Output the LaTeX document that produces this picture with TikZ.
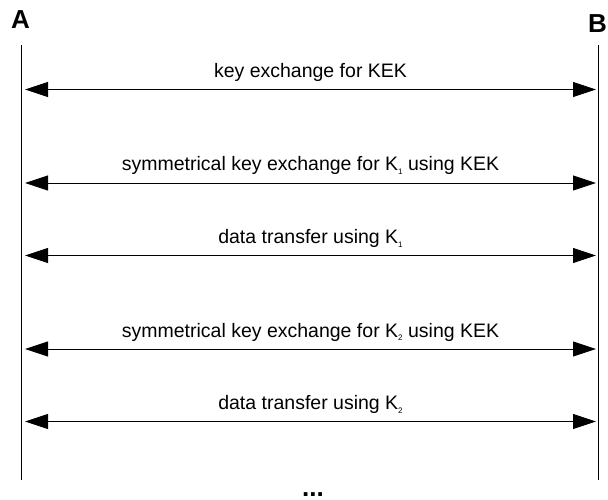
\documentclass[tikz,border=0pt]{standalone}
\usepackage{fontspec}
\setmainfont{Liberation Sans}
\usetikzlibrary{arrows.meta}

% small lowered index, as in K_1
\newcommand{\lowidx}[1]{\raisebox{-3.5pt}{\fontsize{8}{8}\selectfont #1}}

\begin{document}
\begin{tikzpicture}[x=1pt,y=-1pt,
  lifeline/.style={line width=0.9pt},
  msg/.style={line width=0.9pt, {Triangle[length=23pt,width=15pt]}-{Triangle[length=23pt,width=15pt]}},
  msglabel/.style={midway, anchor=base, yshift=12pt, inner sep=0pt, font=\fontsize{19.5}{22}\selectfont},
  party/.style={font=\fontsize{26}{28}\selectfont\bfseries, inner sep=0pt}]
  \useasboundingbox (0,0) rectangle (608,500);

  % parties
  \node[party] (A) at (20.5,19.5) {A};
  \node[party] (B) at (597.5,24) {B};

  % lifelines
  \coordinate (Atop) at (21.5,45);
  \coordinate (Abot) at (21.5,480);
  \coordinate (Btop) at (598,45);
  \coordinate (Bbot) at (598,480);
  \draw[lifeline] (Atop) -- (Abot);
  \draw[lifeline] (Btop) -- (Bbot);

  % message end points
  \foreach \i/\y in {1/89.5, 2/183, 3/255.5, 4/349, 5/421.5} {
    \coordinate (a\i) at (25,\y);
    \coordinate (b\i) at (596,\y);
  }

  \draw[msg] (a1) -- (b1) node[msglabel] {key exchange for KEK};
  \draw[msg] (a2) -- (b2) node[msglabel] {symmetrical key exchange for K\lowidx{1} using KEK};
  \draw[msg] (a3) -- (b3) node[msglabel] {data transfer using K\lowidx{1}};
  \draw[msg] (a4) -- (b4) node[msglabel] {symmetrical key exchange for K\lowidx{2} using KEK};
  \draw[msg] (a5) -- (b5) node[msglabel] {data transfer using K\lowidx{2}};

  % continuation mark
  \node[party, anchor=base] (more) at (313,496) {...};
\end{tikzpicture}
\end{document}
